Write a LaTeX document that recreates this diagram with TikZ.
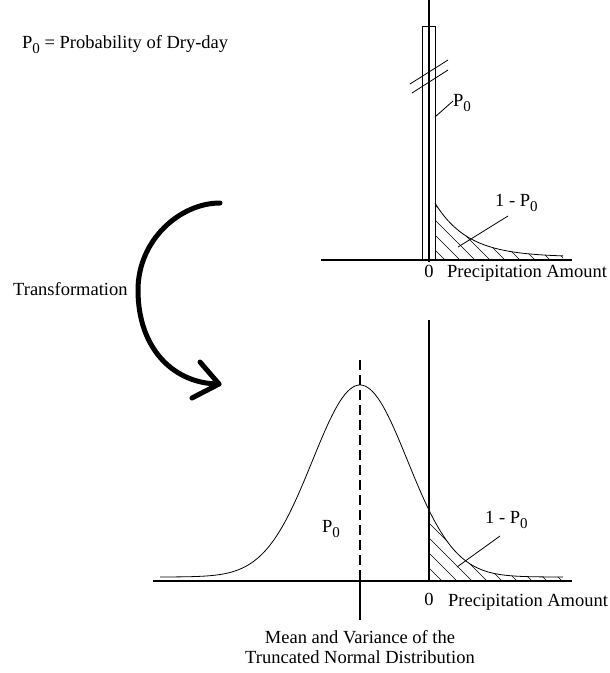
\documentclass[tikz,border=0pt]{standalone}
\usepackage{fontspec}
\setmainfont{Liberation Serif}
\newcommand\Pzero{P\raisebox{-5pt}{\fontsize{15}{15}\selectfont 0}}
\begin{document}
\begin{tikzpicture}[x=1pt,y=-1pt,
  lbl/.style={inner sep=0pt, font=\fontsize{18.5}{20}\selectfont, anchor=base west},
  axisline/.style={line width=1.1pt},
  thinline/.style={line width=0.8pt},
  hatchline/.style={line width=0.7pt},
  bigarrow/.style={line width=5pt, line cap=round, line join=round}]
\fill[white] (0,0) rectangle (610,673);
\path[use as bounding box] (0,0) rectangle (610,673);

% ---------- texts ----------
\node[lbl] (title) at (22,48) {\Pzero{} = Probability of Dry-day};
\node[lbl] (trans) at (13,295) {Transformation};
\node[lbl, anchor=base] (zeroT) at (429,277) {0};
\node[lbl] (precT) at (447,277) {Precipitation Amount};
\node[lbl] (p0T) at (453,106) {\Pzero};
\node[lbl] (qT) at (495,206) {1 - \Pzero};
\node[lbl, anchor=base] (zeroB) at (429,605) {0};
\node[lbl] (precB) at (448,606) {Precipitation Amount};
\node[lbl] (p0B) at (322,532) {\Pzero};
\node[lbl] (qB) at (485,523) {1 - \Pzero};
\node[lbl, anchor=base] (cap1) at (360,643) {Mean and Variance of the};
\node[lbl, anchor=base] (cap2) at (360,663) {Truncated Normal Distribution};

% ---------- top panel ----------
\coordinate (tAxL) at (321,260);
\coordinate (tAxR) at (572,260);
\coordinate (tVtop) at (429,0);
\coordinate (tVbot) at (429,262);
\draw[axisline] (tAxL) -- (tAxR);
\draw[axisline] (tVtop) -- (tVbot);
% bar
\coordinate (barBL) at (422,260);
\coordinate (barTR) at (435,26);
\draw[thinline] (barBL) rectangle (barTR);
% break marks
\coordinate (brA1) at (410,84); \coordinate (brA2) at (448,60);
\coordinate (brB1) at (412,93); \coordinate (brB2) at (448,70);
\draw[thinline] (brA1) -- (brA2);
\draw[thinline] (brB1) -- (brB2);
% exponential tail
\draw[thinline] plot[domain=435:563, samples=60] (\x, {257-54*exp(-(\x-435)/33)});
\begin{scope}
  \clip (435,260) -- plot[domain=435:563, samples=60] (\x, {257-54*exp(-(\x-435)/33)}) -- (563,260) -- cycle;
  \foreach \k in {0,...,8} \draw[hatchline] (445+15*\k,260) -- ++(-70,-70);
\end{scope}
% leaders
\coordinate (lpT1) at (435,117); \coordinate (lpT2) at (453,101);
\draw[thinline] (lpT1) -- (lpT2);
\coordinate (lqT1) at (458,247); \coordinate (lqT2) at (508,216);
\draw[thinline] (lqT1) -- (lqT2);

% ---------- bottom panel ----------
\coordinate (bAxL) at (153,581);
\coordinate (bAxR) at (572,581);
\coordinate (bVtop) at (429,320);
\coordinate (bVbot) at (429,581);
\draw[axisline] (bAxL) -- (bAxR);
\draw[axisline] (bVtop) -- (bVbot);
% gaussian
\draw[thinline] plot[domain=160:563, samples=160] (\x, {577-192*exp(-0.5*((\x-360)/47.5)^2)});
\begin{scope}
  \clip (429,581) -- plot[domain=429:563, samples=60] (\x, {577-192*exp(-0.5*((\x-360)/47.5)^2)}) -- (563,581) -- cycle;
  \foreach \k in {0,...,8} \draw[hatchline] (442+15*\k,581) -- ++(-90,-90);
\end{scope}
% mean line
\coordinate (mTop) at (360,360);
\coordinate (mAx) at (360,581);
\coordinate (mBot) at (360,620);
\draw[axisline, dash pattern=on 10pt off 5pt] (mTop) -- (mAx);
\draw[axisline] (mAx) -- (mBot);
% leader
\coordinate (lqB1) at (457,567); \coordinate (lqB2) at (500,536);
\draw[thinline] (lqB1) -- (lqB2);

% ---------- transformation arrow ----------
\coordinate (arS) at (220,203);
\coordinate (arM) at (138,290);
\coordinate (arE) at (219,384);
\coordinate (arH1) at (200,362);
\coordinate (arH2) at (192,398);
\draw[bigarrow] (arS) .. controls (180,203) and (138,240) .. (arM)
  .. controls (138,350) and (175,384) .. (arE);
\draw[bigarrow] (arH1) -- (arE) -- (arH2);
\end{tikzpicture}
\end{document}
